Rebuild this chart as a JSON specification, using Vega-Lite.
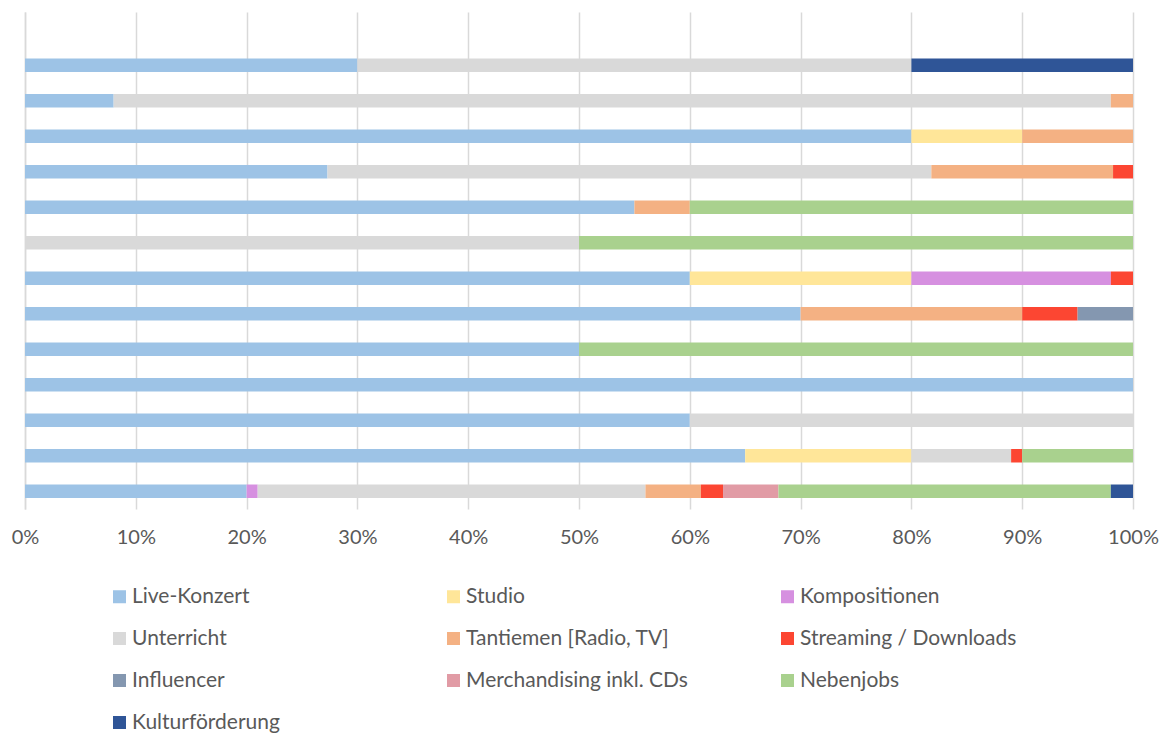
{
  "$schema": "https://vega.github.io/schema/vega-lite/v6.json",
  "autosize": "none",
  "width": 1108,
  "height": 497,
  "padding": {"left": 25, "top": 12, "right": 31, "bottom": 227},
  "background": "white",
  "config": {
    "view": {"stroke": null},
    "font": "Lato"
  },
  "data": {
    "values": [
      {"row": "R1", "cat": "Live-Konzert", "o": 1, "v": 30},
      {"row": "R1", "cat": "Unterricht", "o": 4, "v": 50},
      {"row": "R1", "cat": "Kulturförderung", "o": 10, "v": 20},

      {"row": "R2", "cat": "Live-Konzert", "o": 1, "v": 8},
      {"row": "R2", "cat": "Unterricht", "o": 4, "v": 90},
      {"row": "R2", "cat": "Tantiemen [Radio, TV]", "o": 5, "v": 2},

      {"row": "R3", "cat": "Live-Konzert", "o": 1, "v": 80},
      {"row": "R3", "cat": "Studio", "o": 2, "v": 10},
      {"row": "R3", "cat": "Tantiemen [Radio, TV]", "o": 5, "v": 10},

      {"row": "R4", "cat": "Live-Konzert", "o": 1, "v": 27.3},
      {"row": "R4", "cat": "Unterricht", "o": 4, "v": 54.5},
      {"row": "R4", "cat": "Tantiemen [Radio, TV]", "o": 5, "v": 16.4},
      {"row": "R4", "cat": "Streaming / Downloads", "o": 6, "v": 1.8},

      {"row": "R5", "cat": "Live-Konzert", "o": 1, "v": 55},
      {"row": "R5", "cat": "Tantiemen [Radio, TV]", "o": 5, "v": 5},
      {"row": "R5", "cat": "Nebenjobs", "o": 9, "v": 40},

      {"row": "R6", "cat": "Unterricht", "o": 4, "v": 50},
      {"row": "R6", "cat": "Nebenjobs", "o": 9, "v": 50},

      {"row": "R7", "cat": "Live-Konzert", "o": 1, "v": 60},
      {"row": "R7", "cat": "Studio", "o": 2, "v": 20},
      {"row": "R7", "cat": "Kompositionen", "o": 3, "v": 18},
      {"row": "R7", "cat": "Streaming / Downloads", "o": 6, "v": 2},

      {"row": "R8", "cat": "Live-Konzert", "o": 1, "v": 70},
      {"row": "R8", "cat": "Tantiemen [Radio, TV]", "o": 5, "v": 20},
      {"row": "R8", "cat": "Streaming / Downloads", "o": 6, "v": 5},
      {"row": "R8", "cat": "Influencer", "o": 7, "v": 5},

      {"row": "R9", "cat": "Live-Konzert", "o": 1, "v": 50},
      {"row": "R9", "cat": "Nebenjobs", "o": 9, "v": 50},

      {"row": "R10", "cat": "Live-Konzert", "o": 1, "v": 100},

      {"row": "R11", "cat": "Live-Konzert", "o": 1, "v": 60},
      {"row": "R11", "cat": "Unterricht", "o": 4, "v": 40},

      {"row": "R12", "cat": "Live-Konzert", "o": 1, "v": 65},
      {"row": "R12", "cat": "Studio", "o": 2, "v": 15},
      {"row": "R12", "cat": "Unterricht", "o": 4, "v": 9},
      {"row": "R12", "cat": "Streaming / Downloads", "o": 6, "v": 1},
      {"row": "R12", "cat": "Nebenjobs", "o": 9, "v": 10},

      {"row": "R13", "cat": "Live-Konzert", "o": 1, "v": 20},
      {"row": "R13", "cat": "Kompositionen", "o": 3, "v": 1},
      {"row": "R13", "cat": "Unterricht", "o": 4, "v": 35},
      {"row": "R13", "cat": "Tantiemen [Radio, TV]", "o": 5, "v": 5},
      {"row": "R13", "cat": "Streaming / Downloads", "o": 6, "v": 2},
      {"row": "R13", "cat": "Merchandising inkl. CDs", "o": 8, "v": 5},
      {"row": "R13", "cat": "Nebenjobs", "o": 9, "v": 30},
      {"row": "R13", "cat": "Kulturförderung", "o": 10, "v": 2}
    ]
  },
  "mark": {"type": "bar"},
  "encoding": {
    "y": {
      "field": "row",
      "type": "nominal",
      "scale": {
        "domain": ["R0", "R1", "R2", "R3", "R4", "R5", "R6", "R7", "R8", "R9", "R10", "R11", "R12", "R13"],
        "paddingInner": 0.62,
        "paddingOuter": 0.31
      },
      "axis": {
        "title": null,
        "labels": false,
        "ticks": false,
        "grid": false,
        "domain": true,
        "domainColor": "#D9D9D9",
        "domainWidth": 1.5
      }
    },
    "x": {
      "field": "v",
      "type": "quantitative",
      "stack": "normalize",
      "scale": {"domain": [0, 1], "nice": false},
      "axis": {
        "title": null,
        "values": [0, 0.1, 0.2, 0.3, 0.4, 0.5, 0.6, 0.7, 0.8, 0.9, 1],
        "format": ".0%",
        "domain": false,
        "ticks": false,
        "grid": true,
        "gridColor": "#D9D9D9",
        "gridWidth": 1.5,
        "labelFont": "Lato",
        "labelFontSize": 20,
        "labelColor": "#595959",
        "labelPadding": 18,
        "labelFlush": false
      }
    },
    "order": {"field": "o", "type": "quantitative"},
    "color": {
      "field": "cat",
      "type": "nominal",
      "scale": {
        "domain": ["Live-Konzert", "Studio", "Kompositionen", "Unterricht", "Tantiemen [Radio, TV]", "Streaming / Downloads", "Influencer", "Merchandising inkl. CDs", "Nebenjobs", "Kulturförderung"],
        "range": ["#9DC3E6", "#FFE699", "#D690E0", "#D9D9D9", "#F4B183", "#FC4632", "#8497B0", "#E19BA5", "#A9D18E", "#2F5597"]
      },
      "legend": {
        "title": null,
        "orient": "none",
        "direction": "horizontal",
        "legendX": 84,
        "legendY": 574,
        "columns": 3,
        "gridAlign": "all",
        "columnPadding": 89,
        "rowPadding": 20,
        "symbolType": "square",
        "symbolSize": 169,
        "symbolStrokeWidth": 0,
        "labelFont": "Lato",
        "labelFontSize": 21,
        "labelColor": "#595959",
        "labelOffset": 2,
        "labelLimit": 400
      }
    }
  }
}
